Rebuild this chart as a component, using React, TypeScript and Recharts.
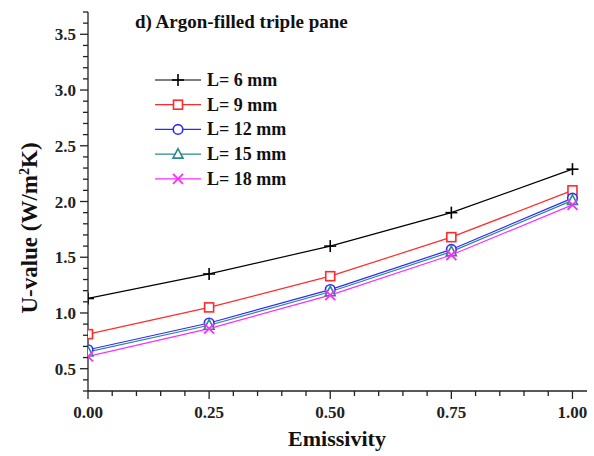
import { LineChart, Line, XAxis, YAxis } from "recharts";

const emissivity = [0, 0.25, 0.5, 0.75, 1.0];
const l6 = [1.13, 1.35, 1.6, 1.9, 2.29];
const l9 = [0.81, 1.05, 1.33, 1.68, 2.1];
const l12 = [0.67, 0.91, 1.21, 1.57, 2.03];
const l15 = [0.65, 0.89, 1.19, 1.55, 2.01];
const l18 = [0.61, 0.86, 1.16, 1.52, 1.97];

const xTicks = [0, 0.05, 0.1, 0.15, 0.2, 0.25, 0.3, 0.35, 0.4, 0.45, 0.5, 0.55, 0.6, 0.65, 0.7, 0.75, 0.8, 0.85, 0.9, 0.95, 1.0];
const xMajor = [0, 0.25, 0.5, 0.75, 1.0];
const yTicks = [0.3, 0.4, 0.5, 0.6, 0.7, 0.8, 0.9, 1.0, 1.1, 1.2, 1.3, 1.4, 1.5, 1.6, 1.7, 1.8, 1.9, 2.0, 2.1, 2.2, 2.3, 2.4, 2.5, 2.6, 2.7, 2.8, 2.9, 3.0, 3.1, 3.2, 3.3, 3.4, 3.5, 3.6, 3.7];
const yMajor = [0.5, 1.0, 1.5, 2.0, 2.5, 3.0, 3.5];

const seriesNames = ["L= 6 mm", "L= 9 mm", "L= 12 mm", "L= 15 mm", "L= 18 mm"];
const seriesKeys = ["l6", "l9", "l12", "l15", "l18"];
const seriesColors = ["#000000", "#ff2a2a", "#2a2aff", "#2a8a8a", "#ff2aff"];
const seriesShapes = ["plus", "square", "circle", "triangle", "cross"];

const data = emissivity.map((e, i) => ({
  e,
  l6: l6[i],
  l9: l9[i],
  l12: l12[i],
  l15: l15[i],
  l18: l18[i],
}));

const FONT = "Liberation Serif, serif";

function Marker({ cx, cy, shape, color }: { cx: number; cy: number; shape: string; color: string }) {
  const s = 5;
  if (shape === "plus") {
    return (
      <g stroke={color} strokeWidth={1.6}>
        <line x1={cx - s - 1} y1={cy} x2={cx + s + 1} y2={cy} />
        <line x1={cx} y1={cy - s - 1} x2={cx} y2={cy + s + 1} />
      </g>
    );
  }
  if (shape === "square") {
    return <rect x={cx - 4.5} y={cy - 4.5} width={9} height={9} fill="#fff" stroke={color} strokeWidth={1.6} />;
  }
  if (shape === "circle") {
    return <circle cx={cx} cy={cy} r={4.8} fill="#fff" stroke={color} strokeWidth={1.6} />;
  }
  if (shape === "triangle") {
    return (
      <polygon
        points={`${cx},${cy - 5.5} ${cx - 5},${cy + 4} ${cx + 5},${cy + 4}`}
        fill="#fff"
        stroke={color}
        strokeWidth={1.6}
      />
    );
  }
  return (
    <g stroke={color} strokeWidth={1.8}>
      <line x1={cx - s} y1={cy - s} x2={cx + s} y2={cy + s} />
      <line x1={cx - s} y1={cy + s} x2={cx + s} y2={cy - s} />
    </g>
  );
}

function XTick({ x, y, payload }: any) {
  const major = xMajor.includes(payload.value);
  return (
    <g>
      <line x1={x} y1={y} x2={x} y2={y + (major ? 8 : 5)} stroke="#222" strokeWidth={1.3} />
      {major && (
        <text x={x} y={y + 27} textAnchor="middle" fontFamily={FONT} fontWeight="bold" fontSize={17} fill="#222">
          {payload.value.toFixed(2)}
        </text>
      )}
    </g>
  );
}

function YTick({ x, y, payload }: any) {
  const major = yMajor.includes(payload.value);
  return (
    <g>
      <line x1={x} y1={y} x2={x - (major ? 8 : 5)} y2={y} stroke="#222" strokeWidth={1.3} />
      {major && (
        <text x={x - 12} y={y + 6} textAnchor="end" fontFamily={FONT} fontWeight="bold" fontSize={17} fill="#222">
          {payload.value.toFixed(1)}
        </text>
      )}
    </g>
  );
}

function LegendBox({ left, top }: { left: number; top: number }) {
  return (
    <g>
      {seriesNames.map((name, i) => {
        const y = top + i * 24.7;
        return (
          <g key={name}>
            <line x1={left} y1={y} x2={left + 46} y2={y} stroke={seriesColors[i]} strokeWidth={1.2} />
            <Marker cx={left + 23} cy={y} shape={seriesShapes[i]} color={seriesColors[i]} />
            <text x={left + 52} y={y + 6} fontFamily={FONT} fontWeight="bold" fontSize={18} fill="#111">
              {name}
            </text>
          </g>
        );
      })}
    </g>
  );
}

export default function App() {
  return (
    <div style={{ position: "absolute", left: 0, top: 0, width: 594, height: 456, background: "#fff" }}>
      <LineChart width={594} height={456} data={data} margin={{ top: 12, right: 7, left: 28, bottom: 0 }}>
        <XAxis
          dataKey="e"
          type="number"
          domain={[0, 1.03]}
          ticks={xTicks}
          interval={0}
          tickSize={0}
          tickMargin={0}
          tickLine={false}
          tick={<XTick />}
          axisLine={{ stroke: "#222", strokeWidth: 1.3 }}
          height={65}
          allowDataOverflow
        />
        <YAxis
          type="number"
          domain={[0.3, 3.7]}
          ticks={yTicks}
          interval={0}
          tickSize={0}
          tickMargin={0}
          tickLine={false}
          tick={<YTick />}
          axisLine={{ stroke: "#222", strokeWidth: 1.3 }}
          width={60}
          allowDataOverflow
        />
        {seriesKeys.map((k, i) => (
          <Line
            key={k}
            dataKey={k}
            name={seriesNames[i]}
            stroke={seriesColors[i]}
            strokeWidth={1.2}
            isAnimationActive={false}
            dot={(p: any) => (
              <Marker key={`${k}-${p.index}`} cx={p.cx} cy={p.cy} shape={seriesShapes[i]} color={seriesColors[i]} />
            )}
            activeDot={false}
          />
        ))}
        <LegendBox left={155} top={80} />
        <text x={135} y={28} fontFamily={FONT} fontWeight="bold" fontSize={19} fill="#111">
          d) Argon-filled triple pane
        </text>
        <text
          x={0}
          y={0}
          transform="translate(37,228) rotate(-90)"
          textAnchor="middle"
          fontFamily={FONT}
          fontWeight="bold"
          fontSize={23}
          fill="#111"
        >
          U-value (W/m
          <tspan dy={-8} fontSize={14}>2</tspan>
          <tspan dy={8}>K)</tspan>
        </text>
        <text x={337} y={446} textAnchor="middle" fontFamily={FONT} fontWeight="bold" fontSize={22} fill="#111">
          Emissivity
        </text>
      </LineChart>
    </div>
  );
}
